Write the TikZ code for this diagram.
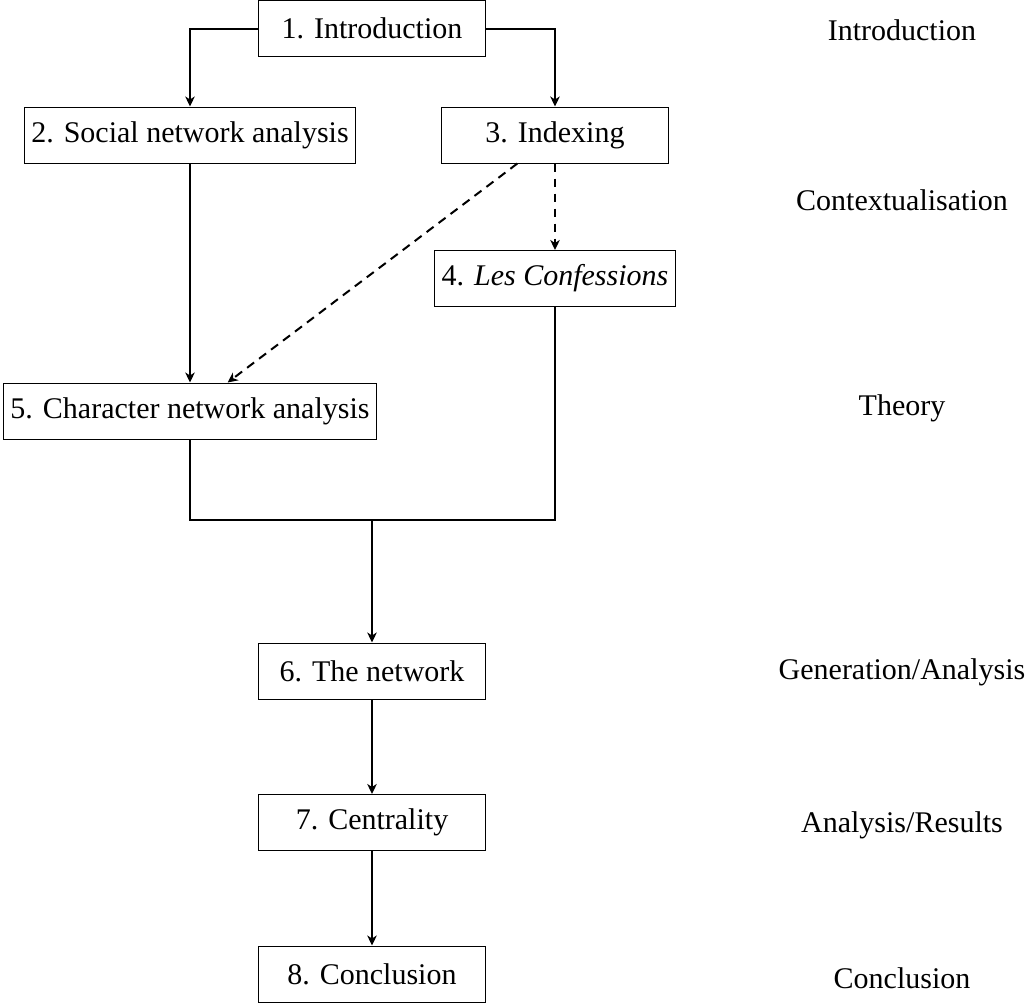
\documentclass[tikz,border=0pt]{standalone}
\usepackage{fontspec}
\setmainfont{Liberation Serif}
\usetikzlibrary{arrows.meta}
\begin{document}
\begin{tikzpicture}[x=0.4pt,y=-0.4pt,
  chap/.style={draw,line width=0.4pt,minimum width=90.8pt,minimum height=22.4pt,inner xsep=2.8pt,font=\fontsize{12}{14}\selectfont},
  part/.style={font=\fontsize{12}{14}\selectfont},
  link/.style={line width=0.8pt,-{Stealth[length=4pt,width=3.8pt,inset=1.2pt]}},
  plain/.style={line width=0.8pt},
  weak/.style={link,dash pattern=on 3.5pt off 2.5pt}]
\useasboundingbox (0,0) rectangle (1027,1002);
% chapter boxes
\node[chap] (c1) at (372,28.5) {1. Introduction};
\node[chap] (c2) at (190,135) {2. Social network analysis};
\node[chap] (c3) at (555,135) {3. Indexing};
\node[chap] (c4) at (555,278.5) {4. \textit{Les Confessions}};
\node[chap] (c5) at (190,411) {5. Character network analysis};
\node[chap] (c6) at (372,671) {6. The network};
\node[chap] (c7) at (372,822.5) {7. Centrality};
\node[chap] (c8) at (372,974) {8. Conclusion};
% part labels
\node[part] (p1) at (902,30) {Introduction};
\node[part] (p2) at (902,200) {Contextualisation};
\node[part] (p3) at (902,408) {Theory};
\node[part] (p4) at (902,672) {Generation/Analysis};
\node[part] (p5) at (902,825) {Analysis/Results};
\node[part] (p6) at (902,978) {Conclusion};
% connectors
\coordinate (j) at (372,520);
\draw[link] (c1.west) -| (c2.north);
\draw[link] (c1.east) -| (c3.north);
\draw[link] (c2.south) -- (c5.north);
\draw[weak] (c3) -- (c5);
\draw[weak] (c3.south) -- (c4.north);
\draw[plain] (c5.south) |- (j) -| (c4.south);
\draw[link] (j) -- (c6.north);
\draw[link] (c6.south) -- (c7.north);
\draw[link] (c7.south) -- (c8.north);
\end{tikzpicture}
\end{document}
